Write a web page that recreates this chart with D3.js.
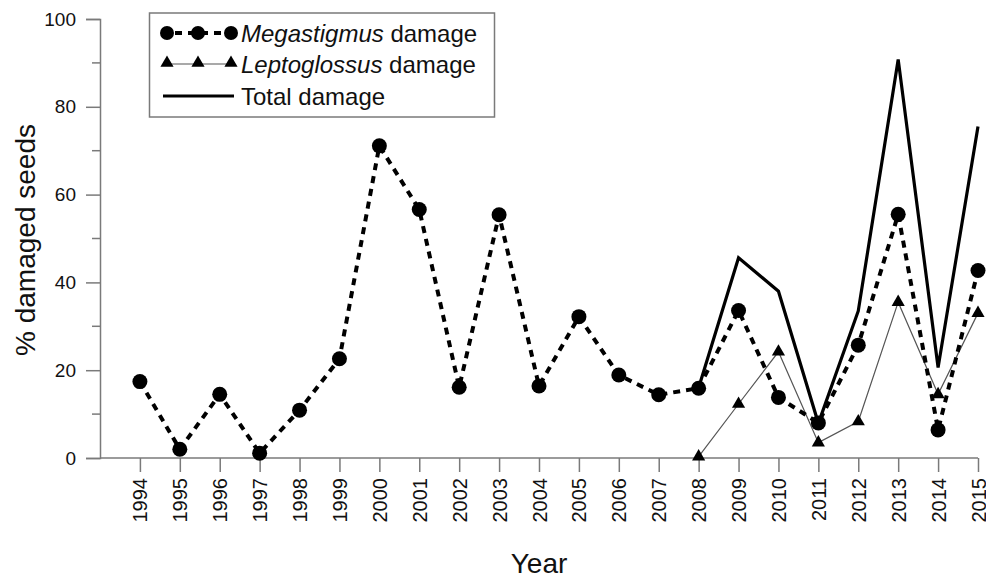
<!DOCTYPE html>
<html>
<head>
<meta charset="utf-8">
<script src="https://cdn.jsdelivr.net/npm/d3@7"></script>
<style>
  body { margin: 0; background: #fff; }
  svg text { font-family: "Liberation Sans", Arial, sans-serif; fill: #111; }
</style>
</head>
<body>
<div id="chart"></div>
<script>
// values
var years = [1994,1995,1996,1997,1998,1999,2000,2001,2002,2003,2004,2005,2006,2007,2008,2009,2010,2011,2012,2013,2014,2015]
var megastigmus = [17.4,2.0,14.5,1.1,10.9,22.6,71.1,56.6,16.1,55.4,16.4,32.2,18.9,14.4,15.9,33.6,13.8,8.0,25.7,55.5,6.4,42.7]
var leptoYears = [2008,2009,2010,2011,2012,2013,2014,2015]
var leptoglossus = [0.3,12.3,24.2,3.5,8.3,35.5,14.5,33.0]
var totalDamage = [16.0,45.6,38.0,7.9,33.5,90.8,20.6,75.5]
var yTicks = [0,20,40,60,80,100]
var yMinor = [10,30,50,70,90]

var W = 986, H = 579
var svg = d3.select('#chart').append('svg').attr('width', W).attr('height', H)

var x = d3.scaleLinear().domain([1993, 2015]).range([100, 978])
var y = d3.scaleLinear().domain([0, 100]).range([458, 19])
var axisCol = '#7a7a7a'

// y axis
var yAx = svg.append('g').attr('transform', 'translate(100,0)')
  .call(d3.axisLeft(y).tickValues(yTicks).tickSize(14).tickPadding(10).tickFormat(d3.format('d')))
yAx.select('.domain').attr('stroke', axisCol).attr('stroke-width', 1.5)
yAx.selectAll('.tick line').attr('stroke', axisCol).attr('stroke-width', 1.5)
yAx.selectAll('.tick text').attr('font-size', 19).attr('fill', '#111')
  .style('font-family', '"Liberation Sans", Arial, sans-serif')
yAx.selectAll('.minor').data(yMinor).enter().append('line')
  .attr('x1', -8).attr('x2', 0).attr('y1', d => y(d)).attr('y2', d => y(d))
  .attr('stroke', axisCol).attr('stroke-width', 1.5)

// x axis
var xAx = svg.append('g').attr('transform', 'translate(0,458)')
  .call(d3.axisBottom(x).tickValues(years).tickSize(14).tickSizeOuter(0).tickFormat(d3.format('d')))
xAx.select('.domain').attr('stroke', axisCol).attr('stroke-width', 1.5)
  .attr('d', 'M' + x(1993) + ',0H' + x(2015))
xAx.selectAll('.tick line').attr('stroke', axisCol).attr('stroke-width', 1.5)
xAx.selectAll('.tick text').attr('font-size', 20).attr('fill', '#111')
  .style('font-family', '"Liberation Sans", Arial, sans-serif')
  .attr('text-anchor', 'end').attr('transform', 'rotate(-90)')
  .attr('x', -20).attr('y', 0).attr('dy', '0.35em')

// axis titles
svg.append('text').attr('x', 539).attr('y', 573).attr('text-anchor', 'middle')
  .attr('font-size', 28).text('Year')
svg.append('text').attr('transform', 'translate(35,240) rotate(-90)')
  .attr('text-anchor', 'middle').attr('font-size', 28).text('% damaged seeds')

var line = d3.line().x(d => x(d[0])).y(d => y(d[1]))

// total damage
svg.append('path').attr('d', line(d3.zip(leptoYears, totalDamage)))
  .attr('fill', 'none').attr('stroke', '#000').attr('stroke-width', 3.2).attr('stroke-linejoin', 'miter')

// leptoglossus
svg.append('path').attr('d', line(d3.zip(leptoYears, leptoglossus)))
  .attr('fill', 'none').attr('stroke', '#555').attr('stroke-width', 1.2)
var tri = d3.symbol().type(d3.symbolTriangle).size(75)
svg.selectAll('.tri').data(d3.zip(leptoYears, leptoglossus)).enter().append('path')
  .attr('d', tri).attr('transform', d => 'translate(' + x(d[0]) + ',' + y(d[1]) + ')').attr('fill', '#000')

// megastigmus
svg.append('path').attr('d', line(d3.zip(years, megastigmus)))
  .attr('fill', 'none').attr('stroke', '#000').attr('stroke-width', 4).attr('stroke-dasharray', '7,6')
svg.selectAll('.dot').data(d3.zip(years, megastigmus)).enter().append('circle')
  .attr('cx', d => x(d[0])).attr('cy', d => y(d[1])).attr('r', 7.5).attr('fill', '#000')

// legend
var lg = svg.append('g')
lg.append('rect').attr('x', 149.5).attr('y', 13).attr('width', 345).attr('height', 104)
  .attr('fill', '#fff').attr('stroke', axisCol).attr('stroke-width', 1.5)
var lx = [167, 198, 231]
lg.append('line').attr('x1', lx[0]).attr('x2', lx[2]).attr('y1', 33).attr('y2', 33)
  .attr('stroke', '#000').attr('stroke-width', 4).attr('stroke-dasharray', '7,6').attr('stroke-dashoffset', -8)
lg.selectAll('.lc').data(lx).enter().append('circle')
  .attr('cx', d => d).attr('cy', 33).attr('r', 7).attr('fill', '#000')
lg.append('line').attr('x1', lx[0]).attr('x2', lx[2]).attr('y1', 64).attr('y2', 64)
  .attr('stroke', '#555').attr('stroke-width', 1.2)
lg.selectAll('.lt').data(lx).enter().append('path')
  .attr('d', tri).attr('transform', d => 'translate(' + d + ',63)').attr('fill', '#000')
lg.append('line').attr('x1', 163).attr('x2', 234).attr('y1', 96).attr('y2', 96)
  .attr('stroke', '#000').attr('stroke-width', 3.2)

var lt1 = lg.append('text').attr('x', 241).attr('y', 42).attr('font-size', 24)
lt1.append('tspan').attr('font-style', 'italic').text('Megastigmus')
lt1.append('tspan').text(' damage')
var lt2 = lg.append('text').attr('x', 241).attr('y', 73).attr('font-size', 24)
lt2.append('tspan').attr('font-style', 'italic').text('Leptoglossus')
lt2.append('tspan').text(' damage')
lg.append('text').attr('x', 241).attr('y', 105).attr('font-size', 24).text('Total damage')
</script>
</body>
</html>
